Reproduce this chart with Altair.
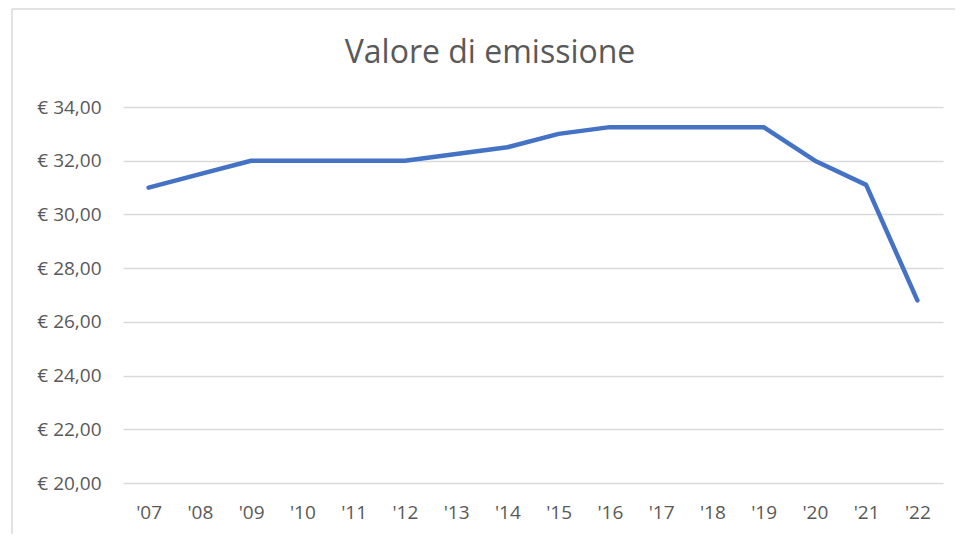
import altair as alt
import pandas as pd

years = ["'07", "'08", "'09", "'10", "'11", "'12", "'13", "'14",
         "'15", "'16", "'17", "'18", "'19", "'20", "'21", "'22"]
values = [31.0, 31.5, 32.0, 32.0, 32.0, 32.0, 32.25, 32.5,
          33.0, 33.25, 33.25, 33.25, 33.25, 32.0, 31.1, 26.8]
y_ticks = [20, 22, 24, 26, 28, 30, 32, 34]
title_text = ["Valore di emissione"]

df = pd.DataFrame({"anno": years, "valore": values})
tdf = pd.DataFrame({"t": title_text})

FONT = "Open Sans"
GREY = "#595959"

line = alt.Chart(df).mark_line(
    color="#4472C4", strokeWidth=4.5, strokeCap="round", strokeJoin="round"
).encode(
    x=alt.X("anno:N", sort=years, title=None,
            scale=alt.Scale(paddingInner=0, paddingOuter=0.5, padding=0.5),
            axis=alt.Axis(labelAngle=0, labelFontSize=19, labelColor=GREY,
                          labelFont=FONT, domain=False, ticks=False,
                          labelPadding=20, grid=False)),
    y=alt.Y("valore:Q", title=None,
            scale=alt.Scale(domain=[20, 34], nice=False, zero=False),
            axis=alt.Axis(values=y_ticks, labelFontSize=19, labelColor=GREY,
                          labelFont=FONT, domain=False, ticks=False,
                          labelPadding=22, gridColor="#d9d9d9", gridWidth=1.5,
                          labelExpr="'€ ' + replace(format(datum.value, '.2f'), '.', ',')")),
)

title = alt.Chart(tdf).mark_text(
    font=FONT, fontSize=32, color=GREY, align="center", baseline="middle"
).encode(text="t:N", x=alt.value(367), y=alt.value(-54))

border_left = alt.Chart(tdf).mark_rule(color="#d9d9d9", strokeWidth=1.5).encode(
    x=alt.value(-111), y=alt.value(-98), y2=alt.value(427))
border_top = alt.Chart(tdf).mark_rule(color="#d9d9d9", strokeWidth=1.5).encode(
    x=alt.value(-111), x2=alt.value(832), y=alt.value(-98))

chart = alt.layer(border_left, border_top, title, line).properties(
    width=820, height=376,
    autosize=alt.AutoSizeParams(type="none"),
    padding={"left": 115, "top": 99, "right": 12, "bottom": 51},
).configure_view(stroke=None)

chart.save("out.html", embed_options={"renderer": "svg", "actions": False})
